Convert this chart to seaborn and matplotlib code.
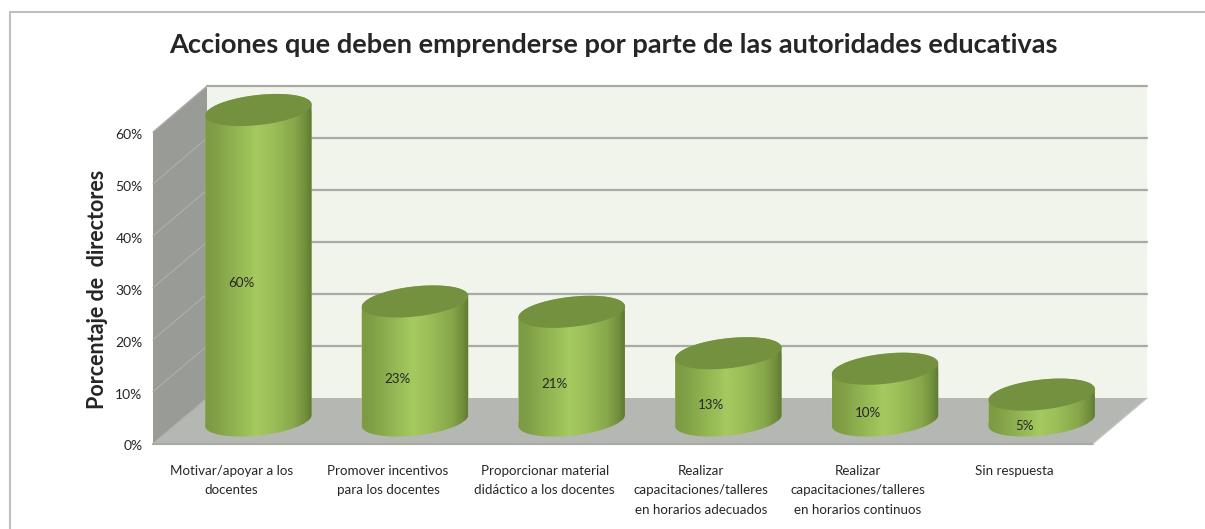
import numpy as np
import pandas as pd
import matplotlib
matplotlib.use("Agg")
import matplotlib.pyplot as plt
from matplotlib.colors import LinearSegmentedColormap
from matplotlib.patches import Polygon
import seaborn as sns

# Datos
categorias = [
    "Motivar/apoyar a los\ndocentes",
    "Promover incentivos\npara los docentes",
    "Proporcionar material\ndidáctico a los docentes",
    "Realizar\ncapacitaciones/talleres\nen horarios adecuados",
    "Realizar\ncapacitaciones/talleres\nen horarios continuos",
    "Sin respuesta",
]
valores = [60, 23, 21, 13, 10, 5]
ticks_y = [0, 10, 20, 30, 40, 50, 60]
titulo = "Acciones que deben emprenderse por parte de las autoridades educativas"
etiqueta_y = "Porcentaje de  directores"

W, H = 1205, 529
sns.set_theme(style="white")
plt.rcParams["font.family"] = ["Lato", "DejaVu Sans"]
COLOR_TEXTO = "#262626"

fig = plt.figure(figsize=(W / 100, H / 100), dpi=100, facecolor="white")


def ejes_px(x0, y0, x1, y1, **kw):
    return fig.add_axes([x0 / W, 1 - y1 / H, (x1 - x0) / W, (y1 - y0) / H], **kw)


# Fondo: paredes y piso en pixeles
fondo = ejes_px(0, 0, W, H)
fondo.set_xlim(0, W)
fondo.set_ylim(H, 0)
fondo.axis("off")
# marco: solo arriba y a la izquierda
fondo.plot([W, 10, 10], [12, 12, H], color="#bfbfbf", lw=1.5)

# (x, y) del plano frontal y del fondo
FX0, FX1, FY0, FY60 = 153, 1093, 443.5, 132
BX0, BX1, BY0, BY60 = 207, 1147, 398, 86
fondo.add_patch(Polygon([(BX0, BY60), (BX1, BY60), (BX1, BY0), (BX0, BY0)], fc="#f1f4eb", ec="none"))
fondo.add_patch(Polygon([(FX0, FY60), (BX0, BY60), (BX0, BY0), (FX0, FY0)], fc="#999b97", ec="none"))
fondo.add_patch(Polygon([(FX0, FY0), (BX0, BY0), (BX1, BY0), (FX1, FY0)], fc="#b5b7b2", ec="none"))
for t in ticks_y:
    yb = BY0 + (BY60 - BY0) * t / 60
    yf = FY0 + (FY60 - FY0) * t / 60
    if t > 0:
        fondo.plot([BX0, BX1], [yb, yb], color="#a8aaa6", lw=1.6)
    fondo.plot([FX0, BX0], [yf, yb], color="#adaeab", lw=0.9)
fondo.plot([FX0, FX1], [FY0, FY0], color="#a8aaa6", lw=1.6)
fondo.plot([FX1, BX1], [FY0, BY0], color="#c4c5c2", lw=1.0)

# Ejes frontales: solo ticks y etiquetas
frente = ejes_px(FX0, FY60 + 2, FX1, FY0 + 2)
frente.patch.set_alpha(0)
frente.set_xlim(-0.5, 5.5)
frente.set_ylim(0, 60)
frente.set_yticks(ticks_y)
frente.set_yticklabels([f"{t}%" for t in ticks_y], fontsize=10, color=COLOR_TEXTO)
frente.set_xticks(range(len(categorias)))
frente.set_xticklabels(categorias, fontsize=9.6, color=COLOR_TEXTO, linespacing=1.75, va="top")
frente.tick_params(axis="both", length=0)
frente.tick_params(axis="y", pad=7.5)
frente.tick_params(axis="x", pad=14)
for s in frente.spines.values():
    s.set_visible(False)
frente.set_ylabel(etiqueta_y, fontsize=15.5, fontweight="bold", color=COLOR_TEXTO, labelpad=5)

# Cilindros: barras de seaborn en el plano medio
MX0, MX1, MY0 = 180, 1120, 420.5
ESC_Y = 5.175
ESC_X = (MX1 - MX0) / 6
YMIN, YMAX = -5, 65
ax = ejes_px(MX0, MY0 - YMAX * ESC_Y, MX1, MY0 - YMIN * ESC_Y)
ax.patch.set_alpha(0)
df = pd.DataFrame({"categoria": categorias, "valor": valores})
sns.barplot(data=df, x="categoria", y="valor", color="#8fae4d", saturation=1, width=107 / ESC_X, ax=ax)
ax.set_xlim(-0.5, 5.5)
ax.set_ylim(YMIN, YMAX)
ax.axis("off")

cmap = LinearSegmentedColormap.from_list(
    "cil",
    [(0, "#7b9a42"), (0.08, "#7f9e45"), (0.3, "#93b653"), (0.48, "#a5ca5f"), (0.62, "#9dc059"),
     (0.84, "#87a74a"), (0.95, "#6f8c3b"), (1, "#5d7731")],
)
A, B, FI = 53.5, 15.0, np.radians(6.4)


def elipse(cx, cy, t):
    # puntos en unidades de datos, inclinada hacia la derecha
    dx = A * np.cos(t) * np.cos(FI) - B * np.sin(t) * np.sin(FI)
    dy = A * np.cos(t) * np.sin(FI) + B * np.sin(t) * np.cos(FI)
    return cx + dx / ESC_X, cy + dy / ESC_Y


grad = np.linspace(0, 1, 256).reshape(1, -1)
for barra, v in zip(ax.patches, valores):
    cx = barra.get_x() + barra.get_width() / 2
    # el cuerpo va de la mitad inferior de la base a la mitad superior de la tapa
    t_izq = np.arctan2(B * np.sin(FI) * -1, A * np.cos(FI)) + np.pi
    t_der = t_izq + np.pi
    xb, yb = elipse(cx, 0, np.linspace(t_izq, t_der, 60))
    xt, yt = elipse(cx, v, np.linspace(t_der, t_izq + 2 * np.pi, 60))
    cuerpo = Polygon(np.r_[np.c_[xb, yb], np.c_[xt, yt]], transform=ax.transData)
    barra.set_clip_path(cuerpo)
    x0, x1 = barra.get_x(), barra.get_x() + barra.get_width()
    im = ax.imshow(grad, cmap=cmap, extent=[x0, x1, -5, v + 5], aspect="auto", zorder=3)
    im.set_clip_path(cuerpo)
    xe, ye = elipse(cx, v, np.linspace(0, 2 * np.pi, 120))
    ax.fill(xe, ye, color="#74913f", lw=0, zorder=4)
ax.set_xlim(-0.5, 5.5)
ax.set_ylim(YMIN, YMAX)

# Etiquetas de datos, en una capa por encima de los cilindros
capa = ejes_px(FX0, FY60, FX1, FY0)
capa.patch.set_alpha(0)
capa.set_xlim(-0.5, 5.5)
capa.set_ylim(0, 60)
capa.axis("off")
for i, v in enumerate(valores):
    capa.annotate(f"{v}%", (i, v / 2), xytext=(7, 3.5), textcoords="offset points",
                  ha="center", va="center", fontsize=9.6, color=COLOR_TEXTO)

fig.text(613 / W, 1 - 45 / H, titulo, ha="center", va="center", fontsize=19.6,
         fontweight="bold", color="#262626")

fig.savefig("out.png", dpi=100)
